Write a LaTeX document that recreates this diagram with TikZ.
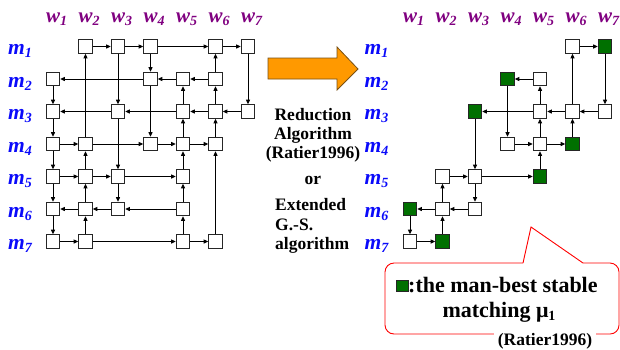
\documentclass[tikz,border=0pt]{standalone}
\usepackage{fontspec}
\setmainfont{Liberation Serif}
\usetikzlibrary{arrows.meta}
\definecolor{wpurple}{RGB}{128,0,128}
\definecolor{mblue}{RGB}{10,10,250}
\definecolor{mgreen}{RGB}{0,112,0}
\definecolor{aorange}{RGB}{255,153,0}
\definecolor{aedge}{RGB}{120,80,20}
\newcommand\wsub[2]{#1\raisebox{-3pt}{\fontsize{14}{14}\selectfont #2}}
\begin{document}
\begin{tikzpicture}[x=1pt,y=-1pt,
  cell/.style={draw=black!85, line width=1.1pt, fill=white, minimum size=13.5pt, inner sep=0pt},
  gcell/.style={cell, fill=mgreen},
  lnk/.style={line width=0.9pt, -{Triangle[length=4.5pt,width=4pt]}},
  wlab/.style={anchor=base west, inner sep=0pt, text=wpurple, font=\fontsize{21}{21}\selectfont\bfseries\itshape},
  mlab/.style={anchor=base west, inner sep=0pt, text=mblue, font=\fontsize{21.5}{21.5}\selectfont\bfseries\itshape},
  midtxt/.style={inner sep=0pt, font=\fontsize{17.5}{17.5}\selectfont\bfseries},
  keytxt/.style={inner sep=0pt, font=\fontsize{22}{22}\selectfont\bfseries},
  callout/.style={draw=red, line width=0.9pt}
]
\useasboundingbox (0,0) rectangle (620,349);

% ---------- column / row labels ----------
\foreach \c in {1,...,7} {
  \node[wlab] (wL\c) at ({53+32.5*(\c-1)-7},22) {\wsub{w}{\c}};
  \node[wlab] (wR\c) at ({410+32.5*(\c-1)-7},22) {\wsub{w}{\c}};
}
\foreach \r in {1,...,7} {
  \node[mlab] (mL\r) at (8,{46.5+32.5*(\r-1)+8}) {\wsub{m}{\r}};
  \node[mlab] (mR\r) at (364.5,{46.5+32.5*(\r-1)+8}) {\wsub{m}{\r}};
}

% ---------- left lattice ----------
\foreach \r/\c in {1/2,1/3,1/4,1/6,1/7, 2/1,2/4,2/5,2/6, 3/1,3/3,3/5,3/6,3/7,
                   4/1,4/2,4/4,4/5,4/6, 5/1,5/2,5/3,5/5, 6/1,6/2,6/3,6/5,
                   7/1,7/2,7/5,7/6}
  \node[cell] (L\r\c) at ({53+32.5*(\c-1)},{46.5+32.5*(\r-1)}) {};

\foreach \a/\b in {12/13,13/14,14/16,16/17, 24/21,25/24,26/25, 33/31,35/33,36/35,37/36,
                   41/42,42/44,44/45,45/46, 51/52,52/53,53/55, 62/61,63/62,65/63,
                   71/72,72/75,75/76,
                   21/31,31/41,41/51,51/61,61/71, 72/62,62/52,52/42,42/12,
                   13/33,33/53,53/63, 14/24,24/44, 75/65,65/55,55/45,45/35,35/25,
                   26/16,36/26,46/36,76/46, 17/37}
  \draw[lnk] (L\a) -- (L\b);

% ---------- right lattice ----------
\foreach \r/\c in {1/6, 2/5, 3/5,3/6,3/7, 4/4,4/5, 5/2,5/3, 6/2,6/3, 7/1}
  \node[cell] (R\r\c) at ({410+32.5*(\c-1)},{46.5+32.5*(\r-1)}) {};
\foreach \r/\c in {1/7, 2/4, 3/3, 4/6, 5/5, 6/1, 7/2}
  \node[gcell] (R\r\c) at ({410+32.5*(\c-1)},{46.5+32.5*(\r-1)}) {};

\foreach \a/\b in {16/17, 25/24, 37/36,36/35,35/33, 44/45,45/46, 52/53,53/55,
                   63/62,62/61, 71/72,
                   17/37, 36/16, 46/36, 35/25,45/35,55/45, 24/44, 33/53,53/63,
                   62/52,72/62, 61/71}
  \draw[lnk] (R\a) -- (R\b);

% ---------- big orange arrow ----------
\draw[fill=aorange, draw=aedge, line width=0.8pt, line join=miter]
  (268,58) -- (337,58) -- (337,47) -- (358,69) -- (337,90) -- (337,79) -- (268,79) -- cycle;

% ---------- middle text ----------
\node[midtxt, anchor=base] (t1) at (313,120.5) {Reduction};
\node[midtxt, anchor=base] (t2) at (313,139.5) {Algorithm};
\node[midtxt, anchor=base] (t3) at (313,158) {(Ratier1996)};
\node[midtxt, anchor=base] (t4) at (313,184) {or};
\node[midtxt, anchor=base west] (t5) at (275,210) {Extended};
\node[midtxt, anchor=base west] (t6) at (275,230) {G.-S.};
\node[midtxt, anchor=base west] (t7) at (275,249.5) {algorithm};

% ---------- callout ----------
\draw[callout, rounded corners=9pt] (583,263) -- (619,263) -- (619,334) -- (385,334) -- (385,263) -- (523,263);
\draw[callout, line join=miter] (523,263) -- (531,227) -- (583,263);
\node[gcell, minimum size=11.5pt, line width=1pt] (key) at (402.5,286) {};
\node[keytxt, anchor=base west] (k1) at (408,292) {:the man-best stable};
\node[keytxt, anchor=base] (k2) at (499,317) {matching \wsub{μ}{1}};
\node[midtxt, anchor=base, fill=white, inner xsep=4pt, inner ysep=1pt] (k3) at (545,345) {(Ratier1996)};
\end{tikzpicture}
\end{document}
